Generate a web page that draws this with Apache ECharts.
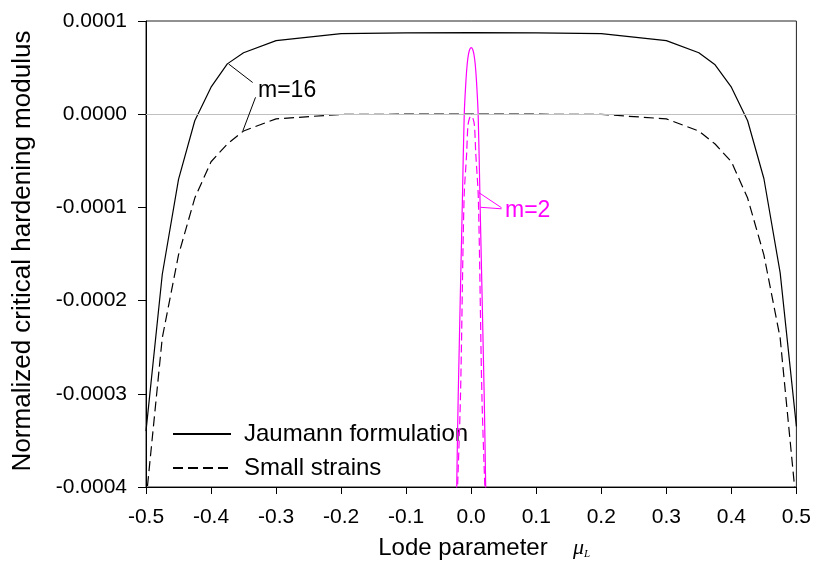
<!DOCTYPE html>
<html>
<head>
<meta charset="utf-8">
<script src="https://cdn.jsdelivr.net/npm/echarts@6/dist/echarts.min.js"></script>
<style>html,body{margin:0;padding:0;background:#fff}#c{width:814px;height:565px}</style>
</head>
<body>
<div id="c"></div>
<script>
// Lode parameter positions for m=16 curves
const mu16 = [-0.5, -0.475, -0.45, -0.425, -0.4, -0.375, -0.35, -0.3, -0.2, -0.1, 0, 0.1, 0.2, 0.3, 0.35, 0.375, 0.4, 0.425, 0.45, 0.475, 0.5];
const jaumann16 = [-3.4e-4, -1.72e-4, -0.70e-4, -0.07e-4, 0.29e-4, 0.54e-4, 0.66e-4, 0.79e-4, 0.865e-4, 0.872e-4, 0.875e-4, 0.872e-4, 0.865e-4, 0.79e-4, 0.66e-4, 0.53e-4, 0.29e-4, -0.07e-4, -0.69e-4, -1.70e-4, -3.35e-4];
const small16 = [-4.15e-4, -2.4e-4, -1.51e-4, -0.90e-4, -0.51e-4, -0.32e-4, -0.18e-4, -0.05e-4, -0.002e-4, 0, 0, 0, -0.002e-4, -0.05e-4, -0.18e-4, -0.32e-4, -0.51e-4, -0.90e-4, -1.51e-4, -2.4e-4, -4.2e-4];
// m=2 curves
const mu2J = [-0.0225, -0.02, -0.0135, -0.0107, -0.008, -0.006, -0.004, -0.002, 0, 0.002, 0.004, 0.006, 0.008, 0.0107, 0.0135, 0.02, 0.0225];
const jaumann2 = [-4.1e-4, -3.03e-4, -0.91e-4, 0, 0.37e-4, 0.55e-4, 0.65e-4, 0.70e-4, 0.715e-4, 0.70e-4, 0.65e-4, 0.55e-4, 0.37e-4, 0, -0.91e-4, -3.03e-4, -4.1e-4];
const mu2S = [-0.0215, -0.0165, -0.011, -0.007, -0.005, -0.0025, 0, 0.0025, 0.005, 0.007, 0.011, 0.0165, 0.0215];
const small2 = [-4.1e-4, -3.03e-4, -0.91e-4, -0.42e-4, -0.12e-4, -0.04e-4, -0.02e-4, -0.04e-4, -0.12e-4, -0.42e-4, -0.91e-4, -3.03e-4, -4.1e-4];
// axis ticks
const xTicks = {min: -0.5, max: 0.5, step: 0.1};
const yTicks = {min: -0.0004, max: 0.0001, step: 0.0001};
// annotation leader lines (data coordinates)
const lead16 = [[[-0.373, 0.539e-4], [-0.336, 0.34e-4]], [[-0.3316, 0.181e-4], [-0.351, -0.177e-4]]];
const lead2 = [[[0.0115, -0.84e-4], [0.0467, -1.004e-4]], [[0.01455, -0.999e-4], [0.0467, -1.015e-4]]];

const pairs = (xs, ys) => xs.map((x, i) => [x, ys[i]]);
const FONT = "'Liberation Sans', Arial, sans-serif";
const leadData = (arr) => arr.map(s => [{coord: s[0]}, {coord: s[1]}]);

const chart = echarts.init(document.getElementById('c'), null, {renderer: 'canvas'});
chart.setOption({
  animation: false,
  backgroundColor: '#fff',
  grid: {left: 146, right: 15, top: 21, bottom: 74, show: true, borderColor: '#222', borderWidth: 1, backgroundColor: 'transparent'},
  xAxis: {
    type: 'value', min: xTicks.min, max: xTicks.max, interval: xTicks.step,
    axisLine: {show: true, onZero: false, lineStyle: {color: '#000', width: 1}},
    axisTick: {show: true, inside: false, length: 7, lineStyle: {color: '#000'}},
    axisLabel: {color: '#000', fontSize: 21, fontFamily: FONT, margin: 20, formatter: v => v.toFixed(1)},
    splitLine: {show: false},
    name: 'Lode parameter  {mu|μ}{sub|L}',
    nameLocation: 'middle', nameGap: 49,
    nameTextStyle: {color: '#000', fontSize: 24, fontFamily: FONT, padding: [0, 0, 0, 26],
      rich: {mu: {fontFamily: "'Liberation Serif', serif", fontStyle: 'italic', fontSize: 22, color: '#000', padding: [0, 0, 0, 12]},
             sub: {fontFamily: "'Liberation Serif', serif", fontStyle: 'italic', fontSize: 11, color: '#000', verticalAlign: 'bottom', padding: [12, 0, 0, 0]}}}
  },
  yAxis: {
    type: 'value', min: yTicks.min, max: yTicks.max, interval: yTicks.step,
    axisLine: {show: true, onZero: false, lineStyle: {color: '#000', width: 1}},
    axisTick: {show: true, inside: false, length: 8, lineStyle: {color: '#000'}},
    axisLabel: {color: '#000', fontSize: 21, fontFamily: FONT, margin: 19,
      formatter: v => { const s = v.toFixed(4); return s === '-0.0000' ? '0.0000' : s; }},
    splitLine: {show: false}
  },
  legend: {
    orient: 'vertical', left: 172, top: 422, padding: 0, itemWidth: 58, itemHeight: 14, itemGap: 10,
    data: ['Jaumann formulation', 'Small strains'],
    itemStyle: {opacity: 0},
    textStyle: {color: '#000', fontSize: 24, fontFamily: FONT, padding: [0, 0, 0, 8]},
    selectedMode: false
  },
  graphic: [
    {type: 'text', x: 23, y: 251, rotation: Math.PI / 2, style: {text: 'Normalized critical hardening modulus', fill: '#000', font: "26px " + FONT, textAlign: 'center', textVerticalAlign: 'middle'}},
    {type: 'text', x: 258, y: 91, style: {text: 'm=16', fill: '#000', font: "23px " + FONT, textAlign: 'left', textVerticalAlign: 'middle'}},
    {type: 'text', x: 505, y: 211, style: {text: 'm=2', fill: '#ff00ff', font: "23px " + FONT, textAlign: 'left', textVerticalAlign: 'middle'}}
  ],
  series: [
    {type: 'line', name: 'zero', data: [], z: 1, silent: true,
     markLine: {silent: true, symbol: 'none', label: {show: false}, lineStyle: {color: '#c0c0c0', type: 'solid', width: 1}, data: [{yAxis: 0}]}},
    {type: 'line', name: 'Jaumann formulation', data: pairs(mu16, jaumann16), showSymbol: false, symbol: 'none', z: 3,
     lineStyle: {color: '#000', width: 1.2, type: 'solid'}, itemStyle: {color: '#000'},
     markLine: {silent: true, symbol: 'none', label: {show: false}, lineStyle: {color: '#000', width: 1, type: 'solid'}, data: leadData(lead16)}},
    {type: 'line', name: 'Small strains', data: pairs(mu16, small16), showSymbol: false, symbol: 'none', z: 3,
     lineStyle: {color: '#000', width: 1.2, type: [10, 5]}, itemStyle: {color: '#000'}},
    {type: 'line', name: 'Jaumann m=2', data: pairs(mu2J, jaumann2), showSymbol: false, symbol: 'none', smooth: 0.3, z: 4,
     lineStyle: {color: '#ff00ff', width: 1.2, type: 'solid'}, itemStyle: {color: '#ff00ff'},
     markLine: {silent: true, symbol: 'none', label: {show: false}, lineStyle: {color: '#ff00ff', width: 1, type: 'solid'}, data: leadData(lead2)}},
    {type: 'line', name: 'Small strains m=2', data: pairs(mu2S, small2), showSymbol: false, symbol: 'none', smooth: 0.3, z: 4,
     lineStyle: {color: '#ff00ff', width: 1.2, type: [8, 4]}, itemStyle: {color: '#ff00ff'}}
  ]
});
</script>
</body>
</html>
